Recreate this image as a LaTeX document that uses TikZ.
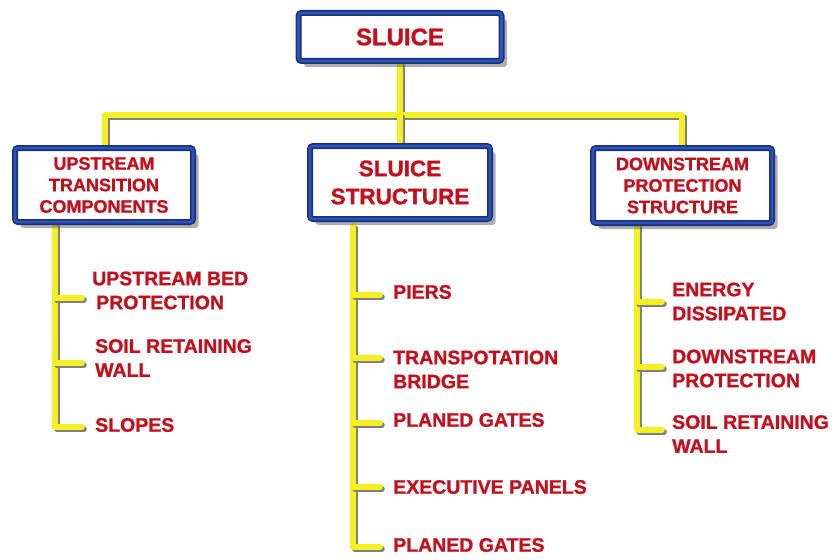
\documentclass[tikz,border=0pt]{standalone}
\usepackage{fontspec}
\setmainfont[BoldFeatures={FakeBold=1.2}]{Liberation Sans}
\usetikzlibrary{shadows,backgrounds}
\definecolor{boxblue}{RGB}{24,48,130}
\definecolor{boxmid}{RGB}{44,84,176}
\definecolor{txtred}{RGB}{196,16,28}
\definecolor{linyel}{RGB}{244,240,36}
\tikzset{
  headbox/.style={draw=boxblue, line width=6pt, rounded corners=3pt, fill=white,
    drop shadow={shadow xshift=5.5pt, shadow yshift=-6pt, opacity=0.45, fill=black!70},
    postaction={draw=boxmid, line width=2.6pt},
    text=txtred, font=\bfseries, align=center, inner sep=0pt},
  itemtext/.style={text=txtred, font=\fontsize{19.5}{24}\selectfont\bfseries,
    align=left, anchor=west, inner sep=0pt},
  yline/.style={draw=linyel, line width=5.5pt, line cap=round, line join=round,
    preaction={draw=black!50, line width=5.5pt, line cap=round, line join=round,
      transform canvas={shift={(2pt,-2pt)}}}},
}
\begin{document}
\begin{tikzpicture}[x=1pt,y=-1pt]
\useasboundingbox (0,0) rectangle (837,559);
\coordinate (bar) at (400,115);
\coordinate (barL) at (105,115);
\coordinate (barR) at (682,115);
% heads
\node[headbox, minimum width=203pt, minimum height=48pt,
  font=\fontsize{24}{28}\selectfont\bfseries] (root) at (400,37) {SLUICE};
\node[headbox, minimum width=178pt, minimum height=74pt,
  font=\fontsize{18}{21.5}\selectfont\bfseries] (up) at (104,185)
  {UPSTREAM\\TRANSITION\\COMPONENTS};
\node[headbox, minimum width=180pt, minimum height=73pt,
  font=\fontsize{22.5}{28}\selectfont\bfseries] (mid) at (400,182.5)
  {SLUICE\\STRUCTURE};
\node[headbox, minimum width=179pt, minimum height=75pt,
  font=\fontsize{18}{21.5}\selectfont\bfseries] (dn) at (682.5,185.5)
  {DOWNSTREAM\\PROTECTION\\STRUCTURE};
% items left
\node[itemtext] (u1) at (92,290.5) {UPSTREAM BED\\\hspace*{4pt}PROTECTION};
\node[itemtext] (u2) at (95,358) {SOIL RETAINING\\WALL};
\node[itemtext] (u3) at (95,425) {SLOPES};
% items middle
\node[itemtext] (m1) at (393,292) {PIERS};
\node[itemtext] (m2) at (393,369.5) {TRANSPOTATION\\BRIDGE};
\node[itemtext] (m3) at (393,420) {PLANED GATES};
\node[itemtext] (m4) at (393,487) {EXECUTIVE PANELS};
\node[itemtext] (m5) at (393,545) {PLANED GATES};
% items right
\node[itemtext] (d1) at (672,301.5) {ENERGY\\DISSIPATED};
\node[itemtext] (d2) at (672,368.5) {DOWNSTREAM\\PROTECTION};
\node[itemtext] (d3) at (672,434) {SOIL RETAINING\\WALL};
% branch coordinates
\coordinate (uL) at (55,225);
\coordinate (ub1) at (82,298); \coordinate (ub2) at (82,363); \coordinate (ub3) at (82,427);
\coordinate (mL) at (353,226);
\coordinate (mb1) at (380,295); \coordinate (mb2) at (380,358); \coordinate (mb3) at (380,423);
\coordinate (mb4) at (380,487); \coordinate (mb5) at (380,547);
\coordinate (dL) at (637,226);
\coordinate (db1) at (662,302); \coordinate (db2) at (662,367); \coordinate (db3) at (662,430);
\begin{scope}[on background layer]
% top tree
\draw[yline] (root.south) -- (bar);
\draw[yline] (up.north -| barL) -- (barL) -- (barR) -- (dn.north -| barR);
\draw[yline] (bar) -- (mid.north);
% left tree
\draw[yline] (uL) |- (ub3);
\draw[yline] (uL |- ub1) -- (ub1);
\draw[yline] (uL |- ub2) -- (ub2);
% middle tree
\draw[yline] (mL) |- (mb5);
\draw[yline] (mL |- mb1) -- (mb1);
\draw[yline] (mL |- mb2) -- (mb2);
\draw[yline] (mL |- mb3) -- (mb3);
\draw[yline] (mL |- mb4) -- (mb4);
% right tree
\draw[yline] (dL) |- (db3);
\draw[yline] (dL |- db1) -- (db1);
\draw[yline] (dL |- db2) -- (db2);
\end{scope}
\end{tikzpicture}
\end{document}
